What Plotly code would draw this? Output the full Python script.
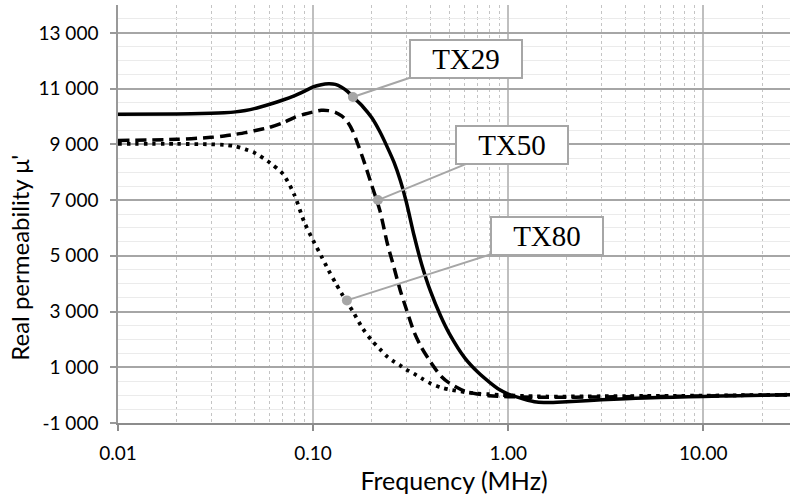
import math
import plotly.graph_objects as go

# ---------------- data ----------------
freq_mhz = [0.01, 0.02, 0.03, 0.035, 0.04, 0.045, 0.05, 0.06, 0.07, 0.08, 0.09, 0.10,
            0.11, 0.12, 0.13, 0.14, 0.15, 0.16, 0.18, 0.20, 0.22, 0.24,
            0.26, 0.28, 0.30, 0.33, 0.36, 0.40, 0.45, 0.50, 0.60, 0.70,
            0.80, 0.90, 1.0, 1.2, 1.4, 1.6, 2.0, 2.5, 3.0, 4.0,
            5.0, 7.0, 10.0, 15.0, 20.0, 28.0]

tx29 = [10080, 10090, 10115, 10135, 10165, 10215, 10280, 10440, 10590, 10740, 10900, 11060,
        11140, 11170, 11150, 11050, 10900, 10700, 10350, 9950, 9450, 8900,
        8350, 7700, 6950, 5700, 4700, 3720, 2850, 2200, 1330, 820,
        470, 200, 40, -140, -250, -265, -235, -200, -170, -130,
        -100, -75, -50, -20, 0, 15]

tx50 = [9140, 9180, 9250, 9300, 9360, 9420, 9490, 9610, 9770, 9960, 10080, 10160,
        10220, 10210, 10150, 10020, 9810, 9460, 8500, 7520, 6620, 5450,
        4570, 3750, 3100, 2250, 1700, 1190, 700, 430, 140, 40,
        -20, -45, -55, -70, -80, -80, -75, -70, -65, -55,
        -50, -40, -30, -10, 0, 15]

tx80 = [9020, 9015, 9000, 8980, 8930, 8820, 8700, 8340, 7940, 7200, 6220, 5550,
        5000, 4480, 4040, 3650, 3320, 3000, 2380, 1960, 1650, 1380,
        1200, 1060, 920, 760, 600, 420, 280, 200, 110, 55,
        35, 10, -5, -30, -45, -50, -50, -45, -40, -35,
        -30, -25, -20, -5, 5, 15]

y_tick_vals = [-1000, 1000, 3000, 5000, 7000, 9000, 11000, 13000]
y_tick_text = ["-1 000", "1 000", "3 000", "5 000", "7 000", "9 000", "11 000", "13 000"]
x_tick_vals = [0.01, 0.1, 1, 10]
x_tick_text = ["0.01", "0.10", "1.00", "10.00"]

label_names = ["TX29", "TX50", "TX80"]
label_freq = [0.16, 0.215, 0.149]
label_mu = [10700, 7000, 3400]

x_title = "Frequency (MHz)"
y_title = "Real permeability μ'"

# ---------------- styling ----------------
FONT = "Lato"
series = [
    (tx29, "TX29", "solid", 3.5),
    (tx50, "TX50", "11px,6px", 3.5),
    (tx80, "TX80", "3.5px,5px", 3.8),
]
label_offsets = [(113, -38), (134, -55), (200, -64)]   # pixel offset of label box centre

fig = go.Figure()
for vals, name, dash, w in series:
    fig.add_trace(go.Scatter(
        x=freq_mhz, y=vals, name=name, mode="lines",
        line=dict(color="black", width=w, dash=dash, shape="spline", smoothing=0.8),
        showlegend=False, hoverinfo="skip"))

fig.add_trace(go.Scatter(
    x=label_freq, y=label_mu, mode="markers",
    marker=dict(color="#a6a6a6", size=10),
    showlegend=False, hoverinfo="skip"))

for name, f, mu, (ax, ay) in zip(label_names, label_freq, label_mu, label_offsets):
    fig.add_annotation(
        x=math.log10(f), y=mu, xref="x", yref="y",
        text=name, showarrow=True, arrowhead=0, arrowwidth=2,
        arrowcolor="#a6a6a6", ax=ax, ay=ay,
        font=dict(family="Liberation Serif", size=29, color="black"),
        bgcolor="white", bordercolor="#a6a6a6", borderwidth=2, borderpad=2,
        width=106)

# y-axis title placed like the original (centred on the chart height)
fig.add_annotation(
    text=y_title, xref="paper", yref="paper", x=-0.146, y=0.395,
    textangle=-90, showarrow=False, xanchor="center", yanchor="middle",
    font=dict(family=FONT, size=24, color="black"))

minor_x = [m * 10 ** e for e in range(-2, 2) for m in range(2, 10)]

fig.update_layout(
    width=790, height=499,
    margin=dict(l=118, r=0, t=5, b=76),
    paper_bgcolor="white", plot_bgcolor="white",
    font=dict(family=FONT, color="black"),
    xaxis=dict(
        type="log", range=[-2, 1.4444],
        tickmode="array", tickvals=x_tick_vals, ticktext=x_tick_text,
        tickfont=dict(size=19, family=FONT, color="black"),
        ticks="outside", ticklen=6, tickwidth=1.5, tickcolor="#8c8c8c",
        ticklabelstandoff=6,
        showline=True, linecolor="#8c8c8c", linewidth=2,
        showgrid=True, gridcolor="#bfbfbf", gridwidth=1.5,
        minor=dict(tickmode="array", tickvals=minor_x, showgrid=True,
                   gridcolor="#c4c4c4", griddash="dot", gridwidth=1, ticks=""),
        title=dict(text=x_title, font=dict(size=25, family=FONT, color="black"),
                   standoff=10),
        zeroline=False, automargin=False,
    ),
    yaxis=dict(
        range=[-1000, 14000],
        tickmode="array", tickvals=y_tick_vals, ticktext=y_tick_text,
        tickfont=dict(size=19, family=FONT, color="black"),
        ticks="outside", ticklen=6, tickwidth=1.5, tickcolor="#999999",
        ticklabelstandoff=8,
        showline=True, linecolor="#999999", linewidth=1.5,
        showgrid=True, gridcolor="#a6a6a6", gridwidth=1.5,
        minor=dict(dtick=500, tick0=-1000, showgrid=True, gridcolor="#ebebeb",
                   gridwidth=1, ticks=""),
        zeroline=False, automargin=False,
    ),
)

fig.write_html("out.html", config={"displayModeBar": False},
               post_script="document.body.style.margin='0';document.body.style.overflow='hidden';")
